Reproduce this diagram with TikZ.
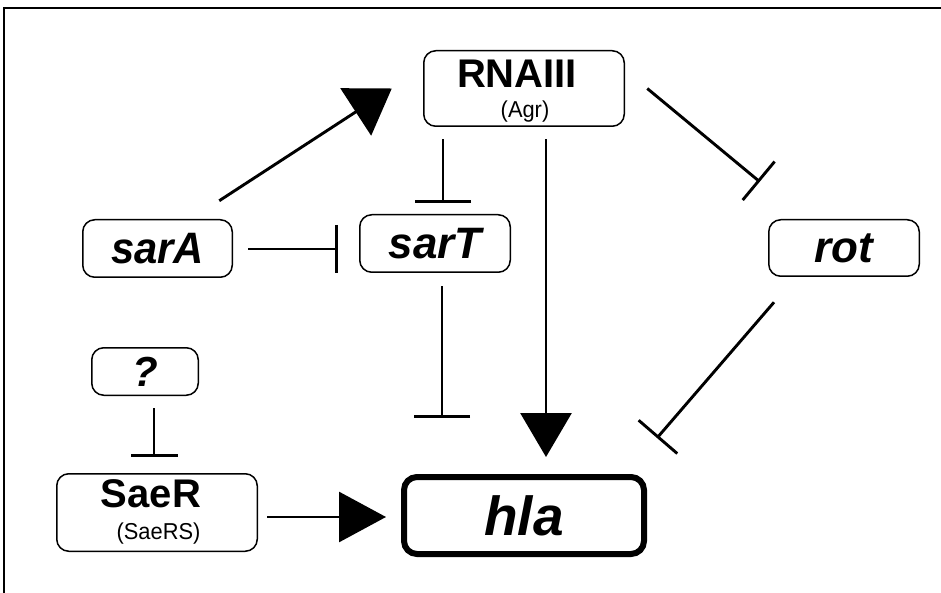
\documentclass[tikz,border=0pt]{standalone}
\usepackage{fontspec}
\setmainfont{Liberation Sans}
\usetikzlibrary{arrows.meta,calc}
\tikzset{
  gbox/.style={draw, line width=1.5pt, rounded corners=12pt, inner sep=0pt, outer sep=0pt,
    font=\bfseries\itshape\fontsize{44}{44}\selectfont},
  conn/.style={line width=2.9pt},
  inh/.style={conn, -{Bar[width=#1, line width=2.9pt]}},
  big/.style={font=\bfseries\fontsize{40}{40}\selectfont, inner sep=0pt, anchor=base},
  small/.style={font=\fontsize{23}{23}\selectfont, inner sep=0pt, anchor=base}
}
\begin{document}
\begin{tikzpicture}[x=1pt,y=-1pt]
\path[use as bounding box] (0,0) rectangle (941,593);
% frame
\draw[line width=1.7pt] (4,593) -- (4,8) -- (941,8);

% boxes
\node[gbox, minimum width=200.5pt, minimum height=75.5pt] (RNAIII) at (524,88.5) {};
\node[big] (RNAIIIt) at (517,88) {RNAIII};
\node[small] (Agr) at (525,117.5) {\scalebox{0.95}[1]{(Agr)}};

\node[gbox, minimum width=149.5pt, minimum height=57.5pt] (sarA) at (157.5,248.5) {\scalebox{0.95}[1]{sarA}};
\node[gbox, minimum width=150.5pt, minimum height=57.5pt] (sarT) at (435,243.5) {sarT};
\node[gbox, minimum width=150.5pt, minimum height=56.5pt] (rot) at (844,248) {rot};
\node[gbox, minimum width=106.5pt, minimum height=47.5pt, font=\bfseries\itshape\fontsize{42}{42}\selectfont] (q) at (145,371.5) {?};

\node[gbox, minimum width=200.5pt, minimum height=77.5pt] (SaeR) at (157,512.5) {};
\node[big] (SaeRt) at (151,507) {SaeR};
\node[small] (SaeRS) at (158.5,539) {\scalebox{0.95}[1]{(SaeRS)}};

\node[gbox, line width=6pt, rounded corners=13pt, minimum width=240pt, minimum height=77pt,
  font=\bfseries\itshape\fontsize{55}{55}\selectfont] (hla) at (524,515.5) {hla};

% connector end points
\coordinate (a1s) at ($(sarA.north east)+(-13,-19)$);
\coordinate (a1e) at ($(RNAIII.west)+(-32,0)$);
\coordinate (i2s) at ($(RNAIII.south)+(-81,13)$);
\coordinate (i2e) at ($(sarT.north)+(8,-12)$);
\coordinate (a3s) at ($(RNAIII.south)+(22,13)$);
\coordinate (a3e) at ($(hla.north)+(22,-20)$);
\coordinate (i4s) at ($(RNAIII.east)+(23,0)$);
\coordinate (i4e) at ($(rot.north west)+(-9,-38)$);
\coordinate (i5s) at ($(sarA.east)+(16,0.5)$);
\coordinate (i5e) at ($(sarT.west)+(-22,5.5)$);
\coordinate (i6s) at ($(sarT.south)+(7,14)$);
\coordinate (i6e) at ($(hla.north)+(-82,-59)$);
\coordinate (i7s) at ($(rot.south)+(-70,26)$);
\coordinate (i7e) at ($(hla.north east)+(13,-39)$);
\coordinate (i8s) at ($(q.south)+(9,13)$);
\coordinate (i8e) at ($(SaeR.north)+(-3,-17)$);
\coordinate (a9s) at ($(SaeR.east)+(10,4.5)$);
\coordinate (a9e) at ($(hla.west)+(-18,1.5)$);

% connectors
\draw[conn, -{Triangle[length=43pt,width=56pt]}] (a1s) -- (a1e);
\draw[inh=56pt] (i2s) -- (i2e);
\draw[conn, -{Triangle[length=44pt,width=51pt]}] (a3s) -- (a3e);
\draw[inh=50pt] (i4s) -- (i4e);
\draw[inh=48pt] (i5s) -- (i5e);
\draw[inh=56pt] (i6s) -- (i6e);
\draw[inh=51pt] (i7s) -- (i7e);
\draw[inh=47pt] (i8s) -- (i8e);
\draw[conn, -{Triangle[length=47pt,width=50pt]}] (a9s) -- (a9e);
\end{tikzpicture}
\end{document}
